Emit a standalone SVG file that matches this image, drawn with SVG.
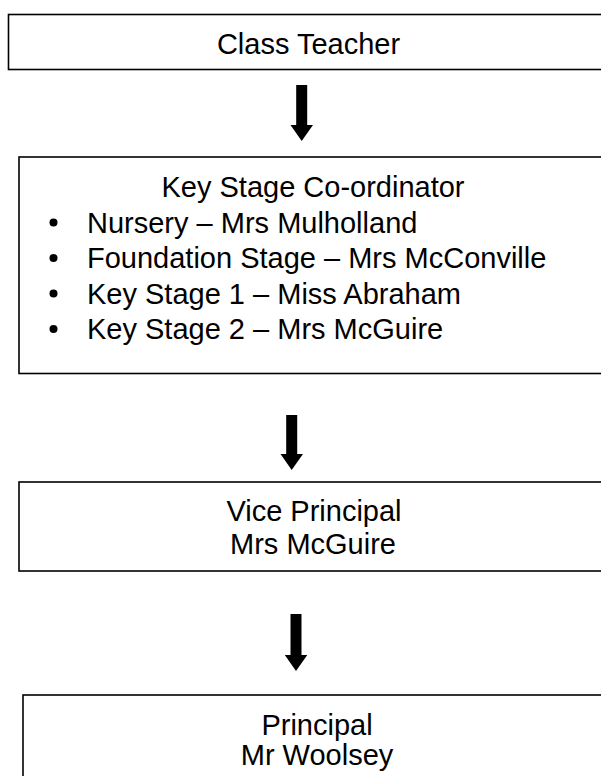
<svg xmlns="http://www.w3.org/2000/svg" width="601" height="776" viewBox="0 0 601 776">
<style>
.box{fill:#fff;stroke:#000;stroke-width:1.6}
.t{font-family:"Liberation Sans",Arial,sans-serif;font-size:29px;fill:#000}
.c{text-anchor:middle}
.arr{fill:#000}
</style>
<rect width="601" height="776" fill="#fff"/>
<g id="class-teacher">
<rect class="box" x="8.5" y="14.5" width="600" height="55"/>
<text class="t c" x="308.5" y="53.5">Class Teacher</text>
</g>
<g id="key-stage-coordinator">
<rect class="box" x="19" y="157" width="600" height="216.5"/>
<text class="t c" x="313" y="197">Key Stage Co-ordinator</text>
<circle cx="53.5" cy="222.5" r="4"/>
<circle cx="53.5" cy="258" r="4"/>
<circle cx="53.5" cy="293.5" r="4"/>
<circle cx="53.5" cy="329" r="4"/>
<text class="t" x="87" y="232.5">Nursery – Mrs Mulholland</text>
<text class="t" x="87" y="268">Foundation Stage – Mrs McConville</text>
<text class="t" x="87" y="303.5">Key Stage 1 – Miss Abraham</text>
<text class="t" x="87" y="339">Key Stage 2 – Mrs McGuire</text>
</g>
<g id="vice-principal">
<rect class="box" x="19" y="482" width="600" height="89"/>
<text class="t c" x="314" y="521">Vice Principal</text>
<text class="t c" x="313" y="554">Mrs McGuire</text>
</g>
<g id="principal">
<rect class="box" x="23" y="695" width="600" height="100"/>
<text class="t c" x="317" y="735">Principal</text>
<text class="t c" x="317" y="765">Mr Woolsey</text>
</g>
<g id="connectors">
<polygon class="arr" points="296.2,85 307.2,85 307.2,125 313,125 301.7,141 290.5,125 296.2,125"/>
<polygon class="arr" points="286.2,415 297.2,415 297.2,454 303,454 291.7,470 280.5,454 286.2,454"/>
<polygon class="arr" points="290.5,614 301.5,614 301.5,655 307.3,655 296,671 284.8,655 290.5,655"/>
</g>
</svg>
